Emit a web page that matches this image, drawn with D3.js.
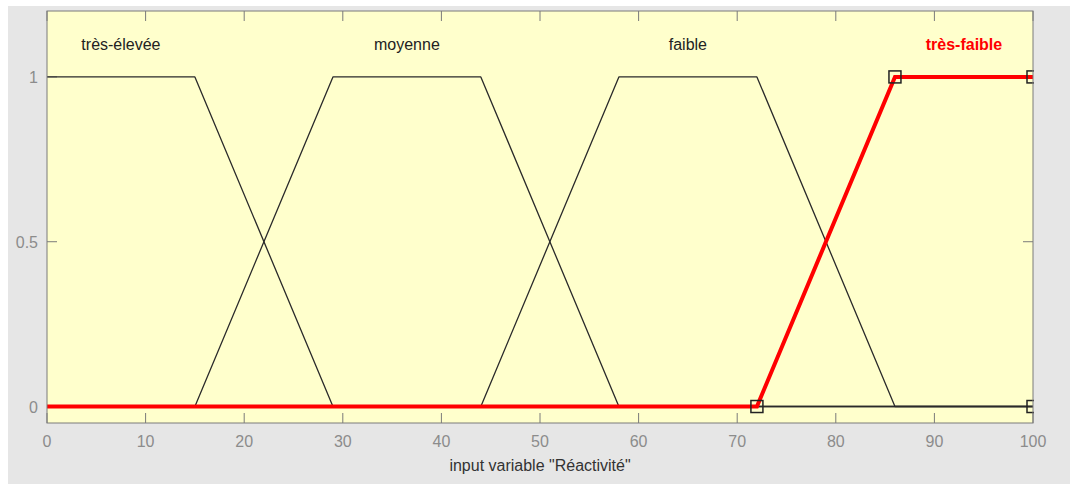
<!DOCTYPE html>
<html>
<head>
<meta charset="utf-8">
<script src="https://cdn.jsdelivr.net/npm/d3@7"></script>
<style>
  body { margin: 0; background: #fff; }
  text { font-family: "Liberation Sans", Arial, sans-serif; }
</style>
</head>
<body>
<svg id="chart"></svg>
<script>
// membership functions of the input variable
const mfNames = ['très-élevée', 'moyenne', 'faible', 'très-faible'];
const mfParams = [
  [-1, 0, 15, 29],
  [15, 29, 44, 58],
  [44, 58, 72, 86],
  [72, 86, 100, 100]
];
const selectedMf = 3;
const xTicks = [0, 10, 20, 30, 40, 50, 60, 70, 80, 90, 100];
const yTicks = [0, 0.5, 1];
const xLabel = 'input variable "Réactivité"';

const width = 1070, height = 484;
const margin = { top: 11, right: 37, bottom: 61, left: 47 };

const svg = d3.select('#chart')
  .attr('width', width)
  .attr('height', height);

// figure background
svg.append('rect')
  .attr('x', 8).attr('y', 6)
  .attr('width', width - 8).attr('height', height - 6)
  .attr('fill', '#e6e6e6');

const xScale = d3.scaleLinear()
  .domain([0, 100])
  .range([margin.left, width - margin.right]);

const yScale = d3.scaleLinear()
  .domain([-0.05, 1.2])
  .range([height - margin.bottom, margin.top]);

// axes area
svg.append('rect')
  .attr('x', xScale(0)).attr('y', yScale(1.2))
  .attr('width', xScale(100) - xScale(0))
  .attr('height', yScale(-0.05) - yScale(1.2))
  .attr('fill', '#ffffcc');

const tickLen = 10;
const gx = svg.append('g');
xTicks.forEach(t => {
  gx.append('line')
    .attr('x1', xScale(t)).attr('x2', xScale(t))
    .attr('y1', yScale(-0.05)).attr('y2', yScale(-0.05) - tickLen)
    .attr('stroke', '#7a7a7a');
  gx.append('line')
    .attr('x1', xScale(t)).attr('x2', xScale(t))
    .attr('y1', yScale(1.2)).attr('y2', yScale(1.2) + tickLen)
    .attr('stroke', '#7a7a7a');
  gx.append('text')
    .attr('x', xScale(t)).attr('y', yScale(-0.05) + 24)
    .attr('text-anchor', 'middle')
    .attr('font-size', 16)
    .attr('fill', '#8c8c8c')
    .text(t);
});

const gy = svg.append('g');
yTicks.forEach(t => {
  gy.append('line')
    .attr('x1', xScale(0)).attr('x2', xScale(0) + tickLen)
    .attr('y1', yScale(t)).attr('y2', yScale(t))
    .attr('stroke', '#7a7a7a');
  gy.append('line')
    .attr('x1', xScale(100)).attr('x2', xScale(100) - tickLen)
    .attr('y1', yScale(t)).attr('y2', yScale(t))
    .attr('stroke', '#7a7a7a');
  gy.append('text')
    .attr('x', xScale(0) - 9).attr('y', yScale(t) + 6)
    .attr('text-anchor', 'end')
    .attr('font-size', 16)
    .attr('fill', '#8c8c8c')
    .text(t);
});

svg.append('text')
  .attr('x', (xScale(0) + xScale(100)) / 2)
  .attr('y', height - 13)
  .attr('text-anchor', 'middle')
  .attr('font-size', 16)
  .attr('fill', '#333')
  .text(xLabel);

// trapezoid breakpoints clipped to the universe of discourse
function trapPoints(p) {
  const pts = [[0, p[0] < 0 ? 1 : 0]];
  [[p[0], 0], [p[1], 1], [p[2], 1], [p[3], 0]].forEach(d => {
    if (d[0] >= 0 && d[0] <= 100) pts.push(d);
  });
  pts.push([100, p[3] >= 100 ? (p[2] >= 100 ? 1 : 0) : 0]);
  return pts;
}

const line = d3.line()
  .x(d => xScale(d[0]))
  .y(d => yScale(d[1]));

const plotG = svg.append('g');

mfParams.forEach((p, i) => {
  if (i === selectedMf) return;
  plotG.append('path')
    .attr('d', line(trapPoints(p)))
    .attr('fill', 'none')
    .attr('stroke', '#2a2a2a')
    .attr('stroke-width', 1.3)
    .attr('stroke-linejoin', 'round');
});

// selected function in red, on top
const sel = mfParams[selectedMf];
plotG.append('path')
  .attr('d', line([[0, 0], [sel[0], 0], [sel[1], 1], [sel[2], 1]]))
  .attr('fill', 'none')
  .attr('stroke', '#ff0000')
  .attr('stroke-width', 4);

// parameter markers
const markers = [[sel[0], 0], [sel[1], 1], [sel[2], 1], [sel[3], 0]];
const ms = 12;
plotG.selectAll('.marker')
  .data(markers)
  .join('rect')
    .attr('class', 'marker')
    .attr('x', d => xScale(d[0]) - ms / 2)
    .attr('y', d => yScale(d[1]) - ms / 2)
    .attr('width', ms).attr('height', ms)
    .attr('fill', 'none')
    .attr('stroke', '#222')
    .attr('stroke-width', 1.5);

// box over everything, clip markers at right edge
svg.append('rect')
  .attr('x', xScale(100) + 1).attr('y', yScale(1.2))
  .attr('width', 6).attr('height', yScale(-0.05) - yScale(1.2))
  .attr('fill', '#e6e6e6');
svg.append('rect')
  .attr('x', xScale(0)).attr('y', yScale(1.2))
  .attr('width', xScale(100) - xScale(0))
  .attr('height', yScale(-0.05) - yScale(1.2))
  .attr('fill', 'none')
  .attr('stroke', '#7a7a7a');

// function names above the plateaus
mfParams.forEach((p, i) => {
  const lo = Math.max(p[1], 0), hi = Math.min(p[2], 100);
  svg.append('text')
    .attr('x', xScale((lo + hi) / 2))
    .attr('y', yScale(1.1) + 6)
    .attr('text-anchor', 'middle')
    .attr('font-size', 16)
    .attr('font-weight', i === selectedMf ? 'bold' : 'normal')
    .attr('fill', i === selectedMf ? '#ff0000' : '#222')
    .text(mfNames[i]);
});
</script>
</body>
</html>
